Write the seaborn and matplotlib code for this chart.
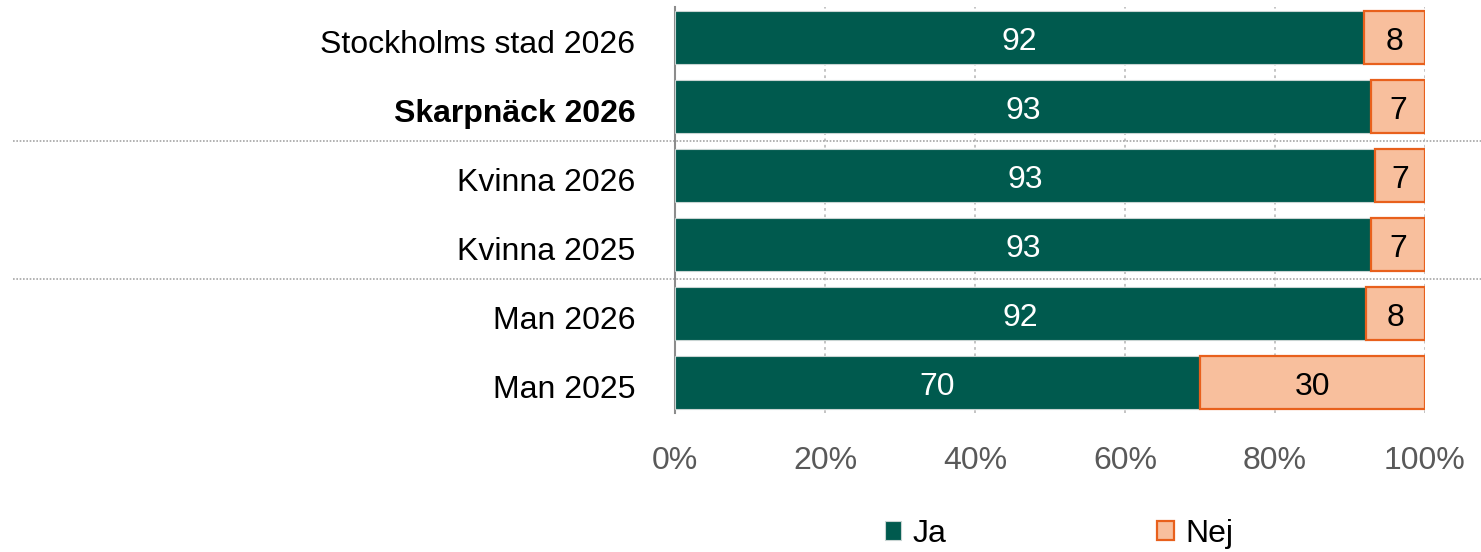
import numpy as np
import pandas as pd
import matplotlib
matplotlib.use("Agg")
import matplotlib.pyplot as plt
from matplotlib.patches import Patch
from matplotlib.transforms import blended_transform_factory, ScaledTranslation
import seaborn as sns

categories = ["Stockholms stad 2026", "Skarpnäck 2026", "Kvinna 2026",
              "Kvinna 2025", "Man 2026", "Man 2025"]
ja = [91.9, 92.8, 93.3, 92.8, 92.1, 70.0]
nej = [8.1, 7.2, 6.7, 7.2, 7.9, 30.0]
ja_labels = ["92", "93", "93", "93", "92", "70"]
nej_labels = ["8", "7", "7", "7", "8", "30"]
bold_category = "Skarpnäck 2026"
group_breaks = [1.5, 3.5]

JA_COLOR = "#005A4E"
NEJ_COLOR = "#F8BF9D"
NEJ_EDGE = "#E8601C"
FS = 23

sns.set_style("white")
plt.rcParams["font.family"] = ["Liberation Sans", "DejaVu Sans"]

df = pd.DataFrame({"kategori": categories, "Ja": ja, "Nej": nej})

fig = plt.figure(figsize=(14.81, 5.52), dpi=100)
ax = fig.add_axes([675 / 1481, 1 - 413 / 552, 750 / 1481, 406 / 552])

bar_h = 0.77
sns.barplot(data=df, y="kategori", x="Ja", orient="h", color=JA_COLOR,
            width=bar_h, edgecolor="#C8D4D2", linewidth=0.8, ax=ax,
            saturation=1, zorder=3)
ax.barh(np.arange(len(categories)), df["Nej"], left=df["Ja"], height=bar_h,
        color=NEJ_COLOR, edgecolor=NEJ_EDGE, linewidth=1.6, zorder=3)

# value labels, nudged down a little like the original
shift = ax.transData + ScaledTranslation(0, -3.5 / 72, fig.dpi_scale_trans)
for i, (j, n) in enumerate(zip(ja, nej)):
    ax.text(j / 2, i, ja_labels[i], ha="center", va="center",
            color="white", fontsize=FS, zorder=4, transform=shift)
    ax.text(j + n / 2, i, nej_labels[i], ha="center", va="center",
            color="black", fontsize=FS, zorder=4, transform=shift)

ax.set_xlim(0, 100)
ax.set_ylim(5.44, -0.44)
ax.set_xticks([0, 20, 40, 60, 80, 100])
ax.set_xticklabels([f"{t}%" for t in range(0, 101, 20)])
ax.tick_params(axis="x", labelsize=FS, labelcolor="#595959", length=0, pad=24)
ax.tick_params(axis="y", labelsize=FS, labelcolor="black", length=0, pad=28.5)
ylab_shift = ScaledTranslation(0, -3 / 72, fig.dpi_scale_trans)
for lab in ax.get_yticklabels():
    lab.set_transform(lab.get_transform() + ylab_shift)
    if lab.get_text() == bold_category:
        lab.set_fontweight("bold")
ax.set_xlabel("")
ax.set_ylabel("")

for x in [20, 40, 60, 80, 100]:
    ax.axvline(x, color="#BFBFBF", linestyle=(0, (1.5, 2)), linewidth=1.3,
               zorder=1)

for s in ["top", "right", "bottom"]:
    ax.spines[s].set_visible(False)
ax.spines["left"].set_color("#8C8C8C")
ax.spines["left"].set_linewidth(1.5)

trans = blended_transform_factory(ax.transAxes, ax.transData)
for yb in group_breaks:
    ax.plot([-662 / 750, 806 / 750], [yb, yb], transform=trans,
            color="#A6A6A6", linestyle=(0, (1, 1)), linewidth=1.2,
            clip_on=False, zorder=2)

handles = [Patch(facecolor=JA_COLOR, edgecolor="#C8D4D2", linewidth=0.8),
           Patch(facecolor=NEJ_COLOR, edgecolor=NEJ_EDGE, linewidth=1.6)]
fig.legend(handles, ["Ja", "Nej"], loc="center",
           bbox_to_anchor=(1059 / 1481, 1 - 534 / 552), ncol=2,
           frameon=False, fontsize=FS, handlelength=0.53, handleheight=0.53,
           handletextpad=0.35, columnspacing=6.6, labelcolor="black")

fig.savefig("out.png", dpi=100)
